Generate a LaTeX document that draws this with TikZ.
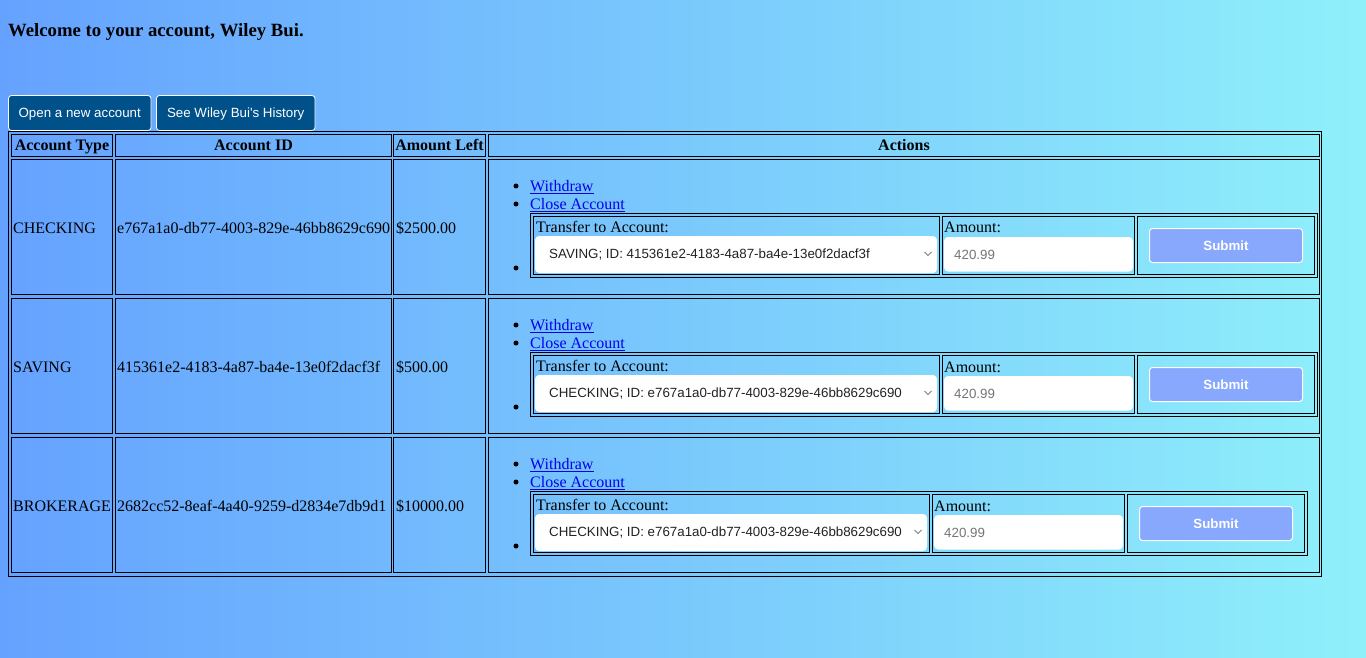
\documentclass[tikz,border=0pt]{standalone}
\usepackage{fontspec}
\setmainfont{Liberation Serif}
\newfontfamily\arialfont{Liberation Sans}
\definecolor{bgleft}{RGB}{101,162,255}
\definecolor{bgright}{RGB}{143,240,250}
\definecolor{btnblue}{RGB}{0,80,138}
\definecolor{submitblue}{RGB}{135,168,252}
\definecolor{linkblue}{RGB}{0,0,238}
\definecolor{hintgray}{RGB}{117,117,117}
\definecolor{seltext}{RGB}{34,34,34}
\tikzset{
  txt/.style={inner sep=0pt, anchor=base west, font=\fontsize{16}{19}\selectfont},
  hd/.style={inner sep=0pt, anchor=base, font=\fontsize{16}{19}\selectfont\bfseries},
  cell/.style={draw=black, line width=1pt},
  navbtn/.style={fill=btnblue, draw=white, line width=0.8pt, rounded corners=3pt},
  field/.style={fill=white, rounded corners=4pt},
  subbtn/.style={fill=submitblue, draw=white, line width=1pt, rounded corners=3pt},
  small/.style={inner sep=0pt, font=\arialfont\fontsize{13.33}{16}\selectfont},
}
\begin{document}
\begin{tikzpicture}[x=1pt, y=-1pt]
        \useasboundingbox (0,0) rectangle (1366,658);
        \shade[left color=bgleft, right color=bgright] (0,0) rectangle (1366,658);
        % heading and top buttons
        \node[txt, font=\fontsize{18.72}{22}\selectfont\bfseries] (title) at (8,36.5) {Welcome to your account, Wiley Bui.};
        \draw[navbtn] (8.5,95.5) rectangle (151,130.5);
        \node[small, text=white, anchor=base] (newacct) at (79.75,118) {Open a new account};
        \draw[navbtn] (156.5,95.5) rectangle (315,130.5);
        \node[small, text=white, anchor=base] (history) at (235.75,118) {See Wiley Bui's History};
        % table frame and header
        \draw[cell] (8.5,131.5) rectangle (1321.5,576.5);
        \draw[cell] (11.5,134.5) rectangle (112.5,156.5);
        \draw[cell] (115.5,134.5) rectangle (391.5,156.5);
        \draw[cell] (393.5,134.5) rectangle (485.5,156.5);
        \draw[cell] (488.5,134.5) rectangle (1319.5,156.5);
        \node[hd] (htype) at (62,151) {Account Type};
        \node[hd] (hid) at (253.5,151) {Account ID};
        \node[hd] (hamt) at (439.5,151) {Amount Left};
        \node[hd] (hact) at (904,151) {Actions};
        % one row per account
        \foreach \t/\type/\id/\amt/\dest/\s [count=\i] in {
            159/CHECKING/e767a1a0-db77-4003-829e-46bb8629c690/{\$2500.00}/{SAVING; ID: 415361e2-4183-4a87-ba4e-13e0f2dacf3f}/0,
            298/SAVING/415361e2-4183-4a87-ba4e-13e0f2dacf3f/{\$500.00}/{CHECKING; ID: e767a1a0-db77-4003-829e-46bb8629c690}/0,
            437/BROKERAGE/2682cc52-8eaf-4a40-9259-d2834e7db9d1/{\$10000.00}/{CHECKING; ID: e767a1a0-db77-4003-829e-46bb8629c690}/10}{
            \draw[cell] (11.5,\t+0.5) rectangle (112.5,\t+135.5);
            \draw[cell] (115.5,\t+0.5) rectangle (391.5,\t+135.5);
            \draw[cell] (393.5,\t+0.5) rectangle (485.5,\t+135.5);
            \draw[cell] (488.5,\t+0.5) rectangle (1319.5,\t+135.5);
            \node[txt] (type\i) at (13,\t+74.5) {\type};
            \node[txt] (id\i) at (117,\t+74.5) {\id};
            \node[txt] (amt\i) at (396,\t+74.5) {\amt};
            \foreach \b in {27,45,109}{
                \fill (516,\t+\b) circle (2.5);
            }
            \node[txt, text=linkblue] (withdraw\i) at (530,\t+32.5) {\underline{Withdraw}};
            \node[txt, text=linkblue] (close\i) at (530,\t+50.5) {\underline{Close Account}};
            % transfer form
            \draw[cell] (530.5,\t+54.5) rectangle (1317.5-\s,\t+118.5);
            \draw[cell] (533.5,\t+57.5) rectangle (939.5-\s,\t+115.5);
            \draw[cell] (942.5-\s,\t+57.5) rectangle (1134.5-\s,\t+115.5);
            \draw[cell] (1137.5-\s,\t+57.5) rectangle (1314.5-\s,\t+115.5);
            \node[txt] (tlabel\i) at (536,\t+73.5) {Transfer to Account:};
            \fill[field] (535,\t+77) rectangle (937-\s,\t+114);
            \node[small, text=seltext, anchor=west] (dest\i) at (549,\t+96) {\dest};
            \draw[gray, line width=0.9pt] (924.5-\s,\t+93) -- (928-\s,\t+96.5) -- (931.5-\s,\t+93);
            \node[txt] (alabel\i) at (944-\s,\t+74) {Amount:};
            \fill[field] (944-\s,\t+78) rectangle (1133-\s,\t+112.5);
            \node[small, text=hintgray, anchor=west] (hint\i) at (954-\s,\t+96) {420.99};
            \draw[subbtn] (1149.5-\s,\t+69.5) rectangle (1302.5-\s,\t+103.5);
            \node[small, text=white, font=\arialfont\bfseries\fontsize{13.33}{16}\selectfont] (submit\i) at (1226-\s,\t+86.5) {Submit};
        }
        \end{tikzpicture}
\end{document}
